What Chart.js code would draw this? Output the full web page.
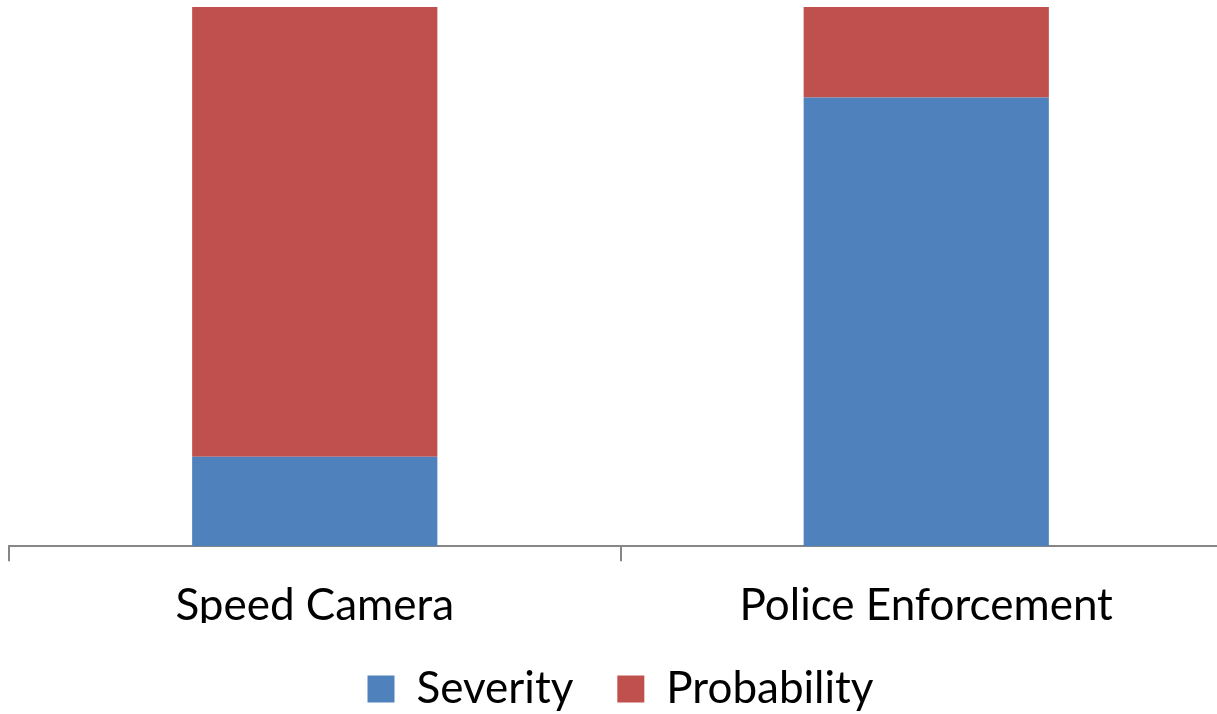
<!DOCTYPE html>
<html>
<head>
<meta charset="utf-8">
<script src="https://cdn.jsdelivr.net/npm/chart.js@4"></script>
<style>
  html, body { margin: 0; padding: 0; background: #fff; overflow: hidden; }
  #chart { display: block; }
</style>
</head>
<body>
<!-- canvas is a bit wider than the window: the plot runs past the right edge -->
<canvas id="chart" width="1232" height="714"></canvas>
<script>
// values are shares (%) of each bar
const categories = ['Speed Camera', 'Police Enforcement'];
const severity = [16.6, 83.2];
const probability = [83.4, 16.8];

const blue = '#4f81bd';
const red = '#c0504d';
const fontFamily = 'Lato, "Open Sans", sans-serif';

var ctx = document.getElementById('chart');
var data = {
    labels: categories,
    datasets: [{
        label: 'Severity',
        data: severity,
        backgroundColor: blue,
        borderWidth: 0,
        barPercentage: 0.401,
        categoryPercentage: 1
    }, {
        label: 'Probability',
        data: probability,
        backgroundColor: red,
        borderWidth: 0,
        barPercentage: 0.401,
        categoryPercentage: 1
    }]
};

var options = {
    responsive: false,
    animation: false,
    layout: {
        padding: { left: 9, top: 7, right: 0, bottom: -7 }
    },
    plugins: {
        tooltip: { enabled: false },
        legend: {
            position: 'bottom',
            labels: {
                color: '#000',
                font: { family: fontFamily, size: 44 },
                boxWidth: 27,
                boxHeight: 27,
                padding: 44
            }
        }
    },
    scales: {
        x: {
            stacked: true,
            offset: true,
            afterFit: scale => { scale.height -= 27; },
            grid: {
                offset: true,
                drawOnChartArea: false,
                color: '#868686',
                lineWidth: 2,
                tickLength: 15,
                tickColor: '#868686'
            },
            border: { color: '#868686', width: 2 },
            ticks: {
                color: '#000',
                font: { family: fontFamily, size: 44 },
                padding: 18
            }
        },
        y: {
            stacked: true,
            display: false,
            min: 0,
            max: 100
        }
    }
};

new Chart(ctx, {
    type: 'bar',
    data: data,
    options: options
});
</script>
</body>
</html>
